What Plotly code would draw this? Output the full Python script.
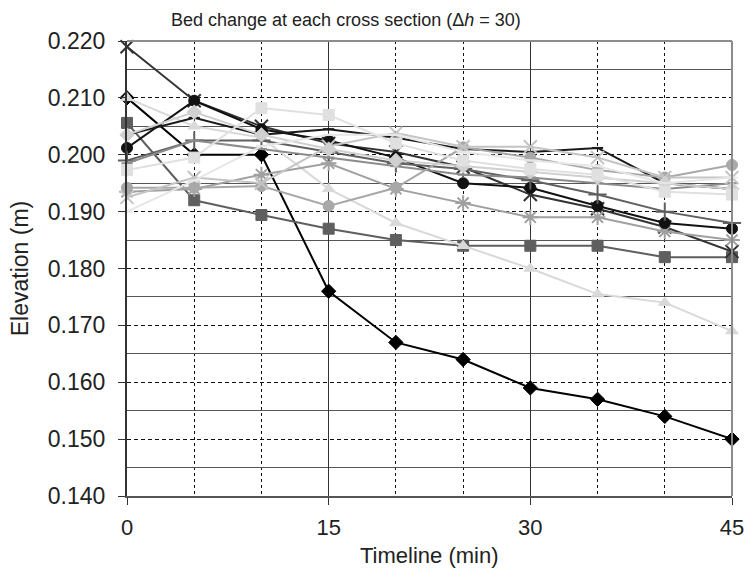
import plotly.graph_objects as go

time_min = [0, 5, 10, 15, 20, 25, 30, 35, 40, 45]

series_names = ["S1", "S2", "S3", "S4", "S5", "S6", "S7", "S8", "S9", "S10", "S11", "S12", "S13", "S14"]

s_black_diamond = [0.2100, 0.2000, 0.2000, 0.1760, 0.1670, 0.1640, 0.1590, 0.1570, 0.1540, 0.1500]
s_dark_square = [0.2056, 0.1920, 0.1894, 0.1870, 0.1850, 0.1840, 0.1840, 0.1840, 0.1820, 0.1820]
s_light_triangle = [0.2100, 0.2050, 0.2030, 0.1940, 0.1880, 0.1840, 0.1800, 0.1755, 0.1740, 0.1690]
s_dark_x = [0.2190, 0.2095, 0.2050, 0.2020, 0.2005, 0.1978, 0.1930, 0.1905, 0.1873, 0.1830]
s_gray_star = [0.1935, 0.1940, 0.1965, 0.1985, 0.1940, 0.1915, 0.1890, 0.1890, 0.1865, 0.1850]
s_black_circle = [0.2012, 0.2095, 0.2045, 0.2025, 0.1995, 0.1950, 0.1942, 0.1910, 0.1880, 0.1870]
s_dark_plus = [0.1990, 0.2025, 0.2025, 0.2005, 0.1985, 0.1975, 0.1955, 0.1930, 0.1900, 0.1880]
s_black_dash = [0.2035, 0.2065, 0.2035, 0.2045, 0.2030, 0.2010, 0.2005, 0.2012, 0.1950, 0.1940]
s_mid_line = [0.1985, 0.2025, 0.2010, 0.1995, 0.1980, 0.1965, 0.1960, 0.1950, 0.1940, 0.1950]
s_gray_circle = [0.1942, 0.1942, 0.1945, 0.1910, 0.1942, 0.2013, 0.1995, 0.1973, 0.1960, 0.1982]
s_light_x = [0.1925, 0.1960, 0.1950, 0.2015, 0.2038, 0.2014, 0.2014, 0.1995, 0.1960, 0.1960]
s_light_diamond = [0.2035, 0.2075, 0.2035, 0.2010, 0.1990, 0.1980, 0.1970, 0.1960, 0.1950, 0.1940]
s_light_square = [0.1973, 0.1995, 0.2082, 0.2070, 0.2020, 0.1990, 0.1975, 0.1965, 0.1935, 0.1930]
s_light_line = [0.1900, 0.1955, 0.2015, 0.2035, 0.2035, 0.2005, 0.1990, 0.1980, 0.1950, 0.1960]

series_values = [s_black_diamond, s_dark_square, s_light_triangle, s_dark_x, s_gray_star,
                 s_black_circle, s_dark_plus, s_black_dash, s_mid_line, s_gray_circle,
                 s_light_x, s_light_diamond, s_light_square, s_light_line]
series_colors = ["#000000", "#5f5f5f", "#d9d9d9", "#333333", "#a0a0a0",
                 "#111111", "#606060", "#1a1a1a", "#8c8c8c", "#a8a8a8",
                 "#c4c4c4", "#d0d0d0", "#e0e0e0", "#e6e6e6"]
series_symbols = ["diamond", "square", "triangle-up", "x-thin-open", "asterisk-open",
                  "circle", "cross-thin-open", "line-ew", "line-ew", "circle",
                  "x-thin-open", "diamond", "square", "line-ew"]

y_label_ticks = [0.140, 0.150, 0.160, 0.170, 0.180, 0.190, 0.200, 0.210, 0.220]
y_tick_text = ["0.140", "0.150", "0.160", "0.170", "0.180", "0.190", "0.200", "0.210", "0.220"]
x_label_ticks = [0, 15, 30, 45]
x_tick_text = ["0", "15", "30", "45"]

FONT = "Liberation Sans, Arial, sans-serif"
TXT = "#222222"

fig = go.Figure()
for name, vals, col, sym in zip(series_names, series_values, series_colors, series_symbols):
    if sym in ("x-thin-open", "asterisk-open", "cross-thin-open"):
        mk = dict(symbol=sym, size=13, color=col, line=dict(color=col, width=2))
    elif sym == "line-ew":
        mk = dict(symbol=sym, size=8, color=col, line=dict(color=col, width=2))
    else:
        mk = dict(symbol=sym, size=11, color=col, line=dict(color=col, width=1))
    fig.add_trace(go.Scatter(x=time_min, y=vals, mode="lines+markers", name=name,
                             line=dict(color=col, width=2), marker=mk,
                             showlegend=False, cliponaxis=False))

L, R, T, B = 127, 14, 41, 75
W, H = 756, 571
pw = W - L - R
ph = H - T - B

fig.update_layout(
    width=W, height=H,
    margin=dict(l=L, r=R, t=T, b=B),
    paper_bgcolor="white", plot_bgcolor="white",
    font=dict(family=FONT, size=22, color=TXT),
    showlegend=False,
    xaxis=dict(
        range=[0, 45], tickmode="array", tickvals=x_label_ticks, ticktext=x_tick_text,
        showgrid=True, gridcolor="#333333", gridwidth=1, griddash="solid",
        minor=dict(tickmode="linear", tick0=0, dtick=5, showgrid=True,
                   gridcolor="#111111", gridwidth=1, griddash="3px,3px", ticks=""),
        ticks="outside", ticklen=7, tickcolor="#333333", tickwidth=1,
        showline=True, linecolor="#555555", linewidth=2,
        zeroline=False, ticklabelstandoff=4,
        tickfont=dict(family=FONT, size=22, color=TXT),
    ),
    yaxis=dict(
        range=[0.140, 0.220], tickmode="array", tickvals=y_label_ticks, ticktext=y_tick_text,
        showgrid=True, gridcolor="#111111", gridwidth=1, griddash="4px,3px",
        minor=dict(tickmode="linear", tick0=0.145, dtick=0.01, showgrid=True,
                   gridcolor="#555555", gridwidth=1, griddash="solid", ticks=""),
        ticks="outside", ticklen=7, tickcolor="#333333", tickwidth=1,
        showline=True, linecolor="#333333", linewidth=2,
        zeroline=False, ticklabelstandoff=8,
        tickfont=dict(family=FONT, size=23, color=TXT),
    ),
    shapes=[
        dict(type="line", xref="paper", yref="paper", x0=0, x1=1, y0=1, y1=1,
             line=dict(color="#8c8c8c", width=2), layer="above"),
        dict(type="line", xref="paper", yref="paper", x0=1, x1=1, y0=0, y1=1,
             line=dict(color="#8c8c8c", width=2), layer="above"),
    ],
    annotations=[
        dict(text="Bed change at each cross section (\u0394<i>h</i> = 30)",
             xref="paper", yref="paper", x=(350 - L) / pw, y=(H - B - 20) / ph,
             xanchor="center", yanchor="middle", showarrow=False,
             font=dict(family=FONT, size=18, color=TXT)),
        dict(text="Elevation (m)", textangle=-90,
             xref="paper", yref="paper", x=(18 - L) / pw, y=0.5,
             xanchor="center", yanchor="middle", showarrow=False,
             font=dict(family=FONT, size=23, color=TXT)),
        dict(text="Timeline (min)",
             xref="paper", yref="paper", x=(434 - L) / pw, y=(H - B - 555) / ph,
             xanchor="center", yanchor="middle", showarrow=False,
             font=dict(family=FONT, size=22, color=TXT)),
    ],
)

fig.write_html("out.html")
